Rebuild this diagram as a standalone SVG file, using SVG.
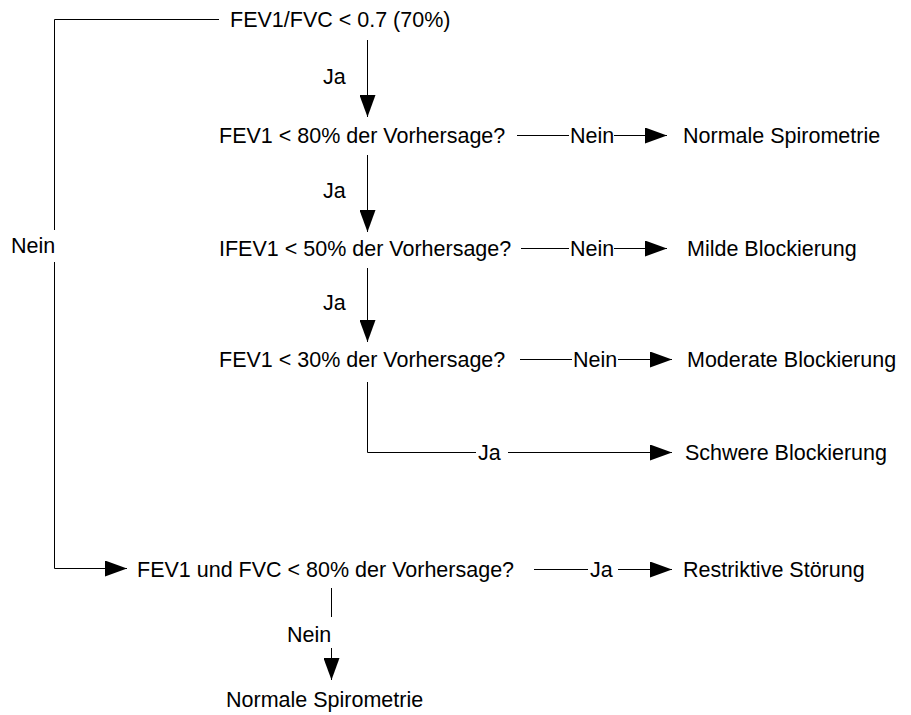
<svg xmlns="http://www.w3.org/2000/svg" width="911" height="715" viewBox="0 0 911 715">
<style>
text{font-family:"Liberation Sans",Arial,sans-serif;font-size:21.5px;fill:#000}
.c line,.c polyline{stroke:#000;stroke-width:1;fill:none}
</style>
<defs>
<marker id="ah" viewBox="0 0 22 16" refX="22" refY="8" markerWidth="22" markerHeight="16" markerUnits="userSpaceOnUse" orient="auto">
<path d="M0,0 L22,8 L0,16 Z" fill="#000"/>
</marker>
</defs>
<rect width="911" height="715" fill="#fff"/>
<g id="connectors" class="c">
<polyline points="219,19.5 54.5,19.5 54.5,230"/>
<polyline points="54.5,262 54.5,568.5 127,568.5" marker-end="url(#ah)"/>
<line x1="367.5" y1="40" x2="367.5" y2="117" marker-end="url(#ah)"/>
<line x1="367.5" y1="155" x2="367.5" y2="232" marker-end="url(#ah)"/>
<line x1="367.5" y1="268" x2="367.5" y2="342" marker-end="url(#ah)"/>
<polyline points="367.5,382 367.5,452.5 476,452.5"/>
<line x1="508" y1="452.5" x2="672" y2="452.5" marker-end="url(#ah)"/>
<line x1="517" y1="135.5" x2="569" y2="135.5"/>
<line x1="614" y1="135.5" x2="667" y2="135.5" marker-end="url(#ah)"/>
<line x1="521" y1="248.5" x2="569" y2="248.5"/>
<line x1="614" y1="248.5" x2="667" y2="248.5" marker-end="url(#ah)"/>
<line x1="520" y1="359.5" x2="572" y2="359.5"/>
<line x1="618" y1="359.5" x2="672" y2="359.5" marker-end="url(#ah)"/>
<line x1="534" y1="569.5" x2="588" y2="569.5"/>
<line x1="618" y1="569.5" x2="672" y2="569.5" marker-end="url(#ah)"/>
<line x1="331.5" y1="588" x2="331.5" y2="617"/>
<line x1="331.5" y1="648" x2="331.5" y2="680" marker-end="url(#ah)"/>
</g>
<g id="labels">
<text x="323" y="84">Ja</text>
<text x="323" y="198">Ja</text>
<text x="323" y="310">Ja</text>
<text x="11" y="253">Nein</text>
<text x="570" y="143">Nein</text>
<text x="570" y="256">Nein</text>
<text x="573" y="367">Nein</text>
<text x="478" y="460">Ja</text>
<text x="590" y="577">Ja</text>
<text x="287" y="642">Nein</text>
</g>
<g id="n-start"><text x="230" y="27">FEV1/FVC &lt; 0.7 (70%)</text></g>
<g id="n-q1"><text x="219" y="143">FEV1 &lt; 80% der Vorhersage?</text></g>
<g id="n-normal1"><text x="683" y="143">Normale Spirometrie</text></g>
<g id="n-q2"><text x="219" y="256">IFEV1 &lt; 50% der Vorhersage?</text></g>
<g id="n-mild"><text x="687" y="256">Milde Blockierung</text></g>
<g id="n-q3"><text x="219" y="367">FEV1 &lt; 30% der Vorhersage?</text></g>
<g id="n-moderate"><text x="687" y="367">Moderate Blockierung</text></g>
<g id="n-severe"><text x="685" y="460">Schwere Blockierung</text></g>
<g id="n-q4"><text x="137" y="577">FEV1 und FVC &lt; 80% der Vorhersage?</text></g>
<g id="n-restrictive"><text x="683" y="577">Restriktive Störung</text></g>
<g id="n-normal2"><text x="226" y="707">Normale Spirometrie</text></g>
</svg>
